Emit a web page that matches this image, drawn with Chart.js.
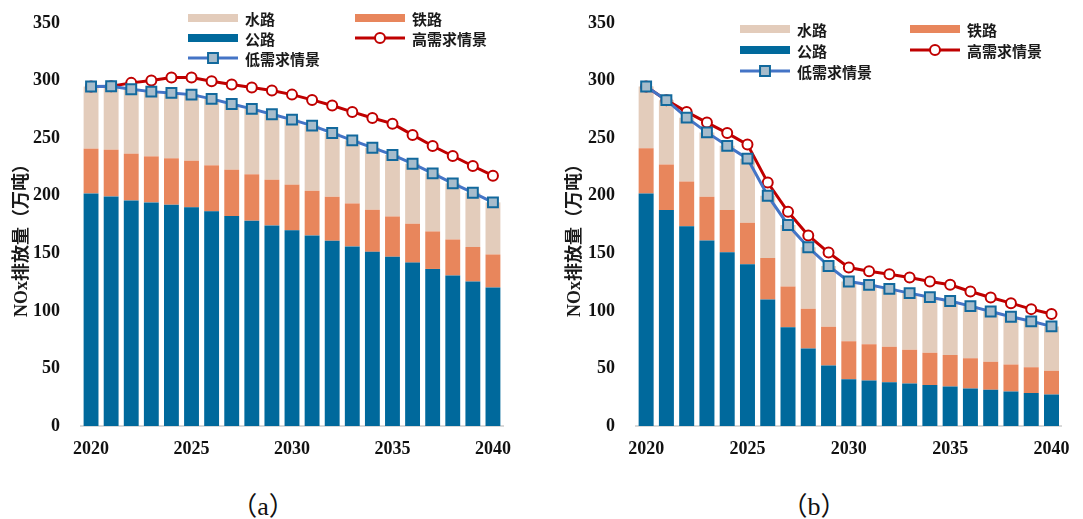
<!DOCTYPE html>
<html>
<head>
<meta charset="utf-8">
<script src="https://cdn.jsdelivr.net/npm/chart.js@4.4.0/dist/chart.umd.min.js"></script>
<style>
body{margin:0;background:#fff;}
#wrap{position:relative;width:1083px;height:519px;overflow:hidden;}
.panel{position:absolute;top:0;height:470px;}
.cap{position:absolute;top:485px;width:90px;margin-left:-45px;text-align:center;
     font:26px 'Liberation Serif','Noto Sans CJK SC',serif;color:#111;}
</style>
</head>
<body>
<div id="wrap">
  <div class="panel" style="left:0;width:540px;"><canvas id="graficaA"></canvas></div>
  <div class="panel" style="left:540px;width:543px;"><canvas id="graficaB"></canvas></div>
  <div class="cap" style="left:263px;">（a）</div>
  <div class="cap" style="left:814px;">（b）</div>
</div>
<script>
// datos (万吨)
const years = [2020,2021,2022,2023,2024,2025,2026,2027,2028,2029,2030,2031,2032,2033,2034,2035,2036,2037,2038,2039,2040];
const yTicks = [0,50,100,150,200,250,300,350];
const seriesNames = ['水路','铁路','公路','高需求情景','低需求情景'];

// (a)
const roadA  = [202,199.4,195.9,194.2,192.2,189.9,186.4,182.3,178.3,174.2,169.9,165.5,160.9,156,151.3,147,141.9,136.4,130.7,125.5,120.3];
const railA  = [38.9,40.6,40.6,40,40.3,40.5,40,40.3,40.3,39.7,39.7,38.8,38.2,37.3,36.5,35,33.8,32.6,31.3,30,28.7];
const waterA = [53.9,55.1,56,56.2,56.8,57.4,57.7,57.1,56.8,56.8,56.5,56.6,55.4,54.8,53.9,53.4,52.1,50.4,48.7,47.1,45.2];
const highA  = [294.8,295.1,298,300,302.6,302.6,299.4,296.5,293.9,291.3,287.8,283.2,278.3,272.8,267.5,262.6,252.8,243.2,234.5,225.8,217.4];
const lowA   = [294.8,295.1,292.5,290.4,289.3,287.8,284.1,279.7,275.4,270.7,266.1,260.9,254.5,248.1,241.7,235.4,227.8,219.4,210.7,202.6,194.2];

// (b)
const roadB  = [202,187.7,173.4,161.1,150.9,140.5,109.9,85.7,67.2,52.5,40.7,39.5,38.1,36.9,35.5,34.3,32.6,31.4,30,28.6,27.4];
const railB  = [39.2,39.5,38.9,38,36.8,36.1,36.1,35.4,34.6,33.7,32.9,31.5,30.8,29.4,28.2,27.4,26.2,24.5,23.4,22.5,20.5];
const waterB = [53.6,55.8,55.5,55.9,55.6,55.6,54,53.5,53.4,52.8,51.9,51.6,50.2,49.1,48.2,46.8,45.3,43.6,41.5,39.8,38.6];
const highB  = [294.8,283,272.8,263.5,254.4,244.4,211.4,186,165.5,150.6,137.6,134.4,131.8,128.9,125.5,122.6,116.8,111.6,106.7,101.5,97.2];
const lowB   = [294.8,283,267.8,255,243.3,232.2,200,174.6,155.2,139,125.5,122.6,119.1,115.4,111.9,108.5,104.1,99.5,94.9,90.9,86.5];

const colores = {
    agua:'#E3CCBB', tren:'#E8865C', carretera:'#00699C',
    alto:'#C00000', bajo:'#4474C6', bajoPunto:'#A7BCCB', bajoBorde:'#12699D', eje:'#D9D9D9'
};

// leyenda y titulo del eje dibujados a mano
const leyendaPlugin = {
    id:'leyendaManual',
    afterDraw(chart, args, opts){
        const ctx = chart.ctx;
        const ds = chart.data.datasets;
        // posiciones: [columna, fila]
        const sitio = {'水路':[0,0],'铁路':[1,0],'公路':[0,1],'高需求情景':[1,1],'低需求情景':[0,2]};
        ctx.save();
        ctx.font = "bold 15px 'Noto Sans CJK SC', sans-serif";
        ctx.textBaseline = 'middle';
        ctx.textAlign = 'left';
        for(let i in ds){
            const d = ds[i];
            const p = sitio[d.label];
            const x = opts.cols[p[0]];
            const y = opts.rows[p[1]];
            if(d.type === 'line'){
                ctx.strokeStyle = d.borderColor;
                ctx.lineWidth = 3;
                ctx.beginPath(); ctx.moveTo(x, y); ctx.lineTo(x+50, y); ctx.stroke();
                ctx.fillStyle = d.pointBackgroundColor;
                ctx.strokeStyle = d.pointBorderColor;
                ctx.lineWidth = d.pointBorderWidth;
                ctx.beginPath();
                if(d.pointStyle === 'rect'){
                    const s = Math.SQRT1_2*d.pointRadius;
                    ctx.rect(x+25-s, y-s, 2*s, 2*s);
                }else{
                    ctx.arc(x+25, y, d.pointRadius, 0, Math.PI*2);
                }
                ctx.fill(); ctx.stroke();
            }else{
                ctx.fillStyle = d.backgroundColor;
                ctx.fillRect(x, y-4, 50, 8);
            }
            ctx.fillStyle = '#1a1a1a';
            ctx.fillText(d.label, x+57, y+1);
        }
        // titulo del eje y
        ctx.translate(opts.titleX, opts.titleY);
        ctx.rotate(-Math.PI/2);
        ctx.textAlign = 'center';
        ctx.font = "bold 18px 'Liberation Serif', 'Noto Sans CJK SC', sans-serif";
        ctx.fillStyle = '#1a1a1a';
        ctx.fillText('NOx排放量（万吨）', 0, 0);
        ctx.restore();
    }
};

function crearGrafica(id, road, rail, water, high, low, cfg){
    const ctx = document.getElementById(id).getContext('2d');
    return new Chart(ctx, {
        type:'bar',
        data:{
            labels: years,
            datasets:[
                {type:'line', label:seriesNames[4], data:low, order:0, stack:'bajo',
                 borderColor:colores.bajo, borderWidth:3, pointStyle:'rect', pointRadius:7,
                 pointBackgroundColor:colores.bajoPunto, pointBorderColor:colores.bajoBorde, pointBorderWidth:2,
                 tension:0},
                {type:'line', label:seriesNames[3], data:high, order:1, stack:'alto',
                 borderColor:colores.alto, borderWidth:3, pointStyle:'circle', pointRadius:5,
                 pointBackgroundColor:'#ffffff', pointBorderColor:colores.alto, pointBorderWidth:2,
                 tension:0},
                {label:seriesNames[2], data:road, order:2, backgroundColor:colores.carretera, stack:'s'},
                {label:seriesNames[1], data:rail, order:3, backgroundColor:colores.tren, stack:'s'},
                {label:seriesNames[0], data:water, order:4, backgroundColor:colores.agua, stack:'s'}
            ]
        },
        options:{
            responsive:true,
            maintainAspectRatio:false,
            animation:false,
            devicePixelRatio:1,
            datasets:{bar:{barPercentage:0.74, categoryPercentage:1}},
            layout:{padding:{left:0, right:cfg.padRight, top:23, bottom:0}},
            plugins:{
                legend:{display:false},
                tooltip:{enabled:false},
                leyendaManual:cfg.leyenda
            },
            scales:{
                x:{
                    stacked:true,
                    grid:{display:false, drawTicks:false},
                    border:{display:true, color:colores.eje, width:2},
                    ticks:{
                        autoSkip:false, maxRotation:0, padding:13,
                        color:'#111', font:{family:"'Liberation Serif', serif", size:18, weight:'bold'},
                        callback:function(v, i){ return years[i] % 5 === 0 ? String(years[i]) : ''; }
                    },
                    afterFit:function(s){ s.height = 44; }
                },
                y:{
                    stacked:true,
                    min:0, max:350,
                    grid:{display:false, drawTicks:false},
                    border:{display:false},
                    afterBuildTicks:function(s){ s.ticks = yTicks.map(v => ({value:v})); },
                    ticks:{
                        padding:21, color:'#111',
                        font:{family:"'Liberation Serif', serif", size:18, weight:'bold'}
                    },
                    // el padding de los ticks no debe empujar el area hacia abajo
                    afterFit:function(s){ s.width = cfg.ejeY; s.paddingTop = 11; s.paddingBottom = 11; }
                }
            }
        },
        plugins:[leyendaPlugin]
    });
}

crearGrafica('graficaA', roadA, railA, waterA, highA, lowA, {
    padRight:37, ejeY:81,
    leyenda:{cols:[188,355], rows:[18,38,58], titleX:22, titleY:236}
});
crearGrafica('graficaB', roadB, railB, waterB, highB, lowB, {
    padRight:21, ejeY:96,
    leyenda:{cols:[200,370], rows:[29,50,71], titleX:35, titleY:236}
});
</script>
</body>
</html>
